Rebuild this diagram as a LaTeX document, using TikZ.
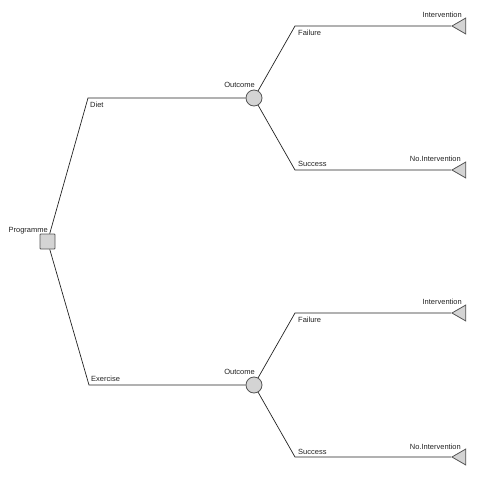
\documentclass[tikz,border=0pt]{standalone}
\usepackage{fontspec}
\setmainfont{Liberation Sans}
\usetikzlibrary{shapes.geometric}
\definecolor{shapefill}{HTML}{D4D4D4}
\definecolor{shapeline}{HTML}{555555}
\definecolor{edgecol}{HTML}{222222}
\definecolor{txtcol}{HTML}{222222}
\begin{document}
\begin{tikzpicture}[x=1pt,y=-1pt,
  decision/.style={draw=shapeline,fill=shapefill,line width=0.8pt,minimum size=15pt,inner sep=0pt,rounded corners=0.8pt},
  chance/.style={draw=shapeline,fill=shapefill,line width=0.8pt,circle,minimum size=16pt,inner sep=0pt},
  leaf/.style={draw=shapeline,fill=shapefill,line width=0.8pt,regular polygon,regular polygon sides=3,shape border rotate=90,minimum size=18.5pt,inner sep=0pt},
  edge/.style={draw=edgecol,line width=0.7pt},
  lbl/.style={inner sep=0pt,text=txtcol,font=\fontsize{7.5}{9}\selectfont}]
\useasboundingbox (0,0) rectangle (480,480);
% nodes
\node[decision] (sq) at (47.5,241.5) {};
\coordinate (d1) at (88,98);
\coordinate (e1) at (89,385);
\node[chance] (c1) at (254,98) {};
\node[chance] (c2) at (254,385) {};
\coordinate (f1) at (295,26);
\coordinate (s1) at (295,170);
\coordinate (f2) at (295,313);
\coordinate (s2) at (295,457);
\node[leaf] (t1) at (461.2,26) {};
\node[leaf] (t2) at (461.2,170) {};
\node[leaf] (t3) at (461.2,313) {};
\node[leaf] (t4) at (461.2,457) {};
% edges
\draw[edge] (sq) -- (d1) -- (c1);
\draw[edge] (sq) -- (e1) -- (c2);
\draw[edge] (c1) -- (f1) -- (t1.west);
\draw[edge] (c1) -- (s1) -- (t2.west);
\draw[edge] (c2) -- (f2) -- (t3.west);
\draw[edge] (c2) -- (s2) -- (t4.west);
% labels
\node[lbl,anchor=base east] (lprog) at (48,232) {Programme};
\node[lbl,anchor=base east] (lout1) at (255,87) {Outcome};
\node[lbl,anchor=base east] (lout2) at (255,374) {Outcome};
\node[lbl,anchor=base west] (ldiet) at (90,107) {Diet};
\node[lbl,anchor=base west] (lex) at (91,381) {Exercise};
\node[lbl,anchor=base west] (lf1) at (298,35) {Failure};
\node[lbl,anchor=base west] (ls1) at (298,166) {Success};
\node[lbl,anchor=base west] (lf2) at (298,322) {Failure};
\node[lbl,anchor=base west] (ls2) at (298,454) {Success};
\node[lbl,anchor=base east] (li1) at (462,17) {Intervention};
\node[lbl,anchor=base east] (ln1) at (461,161) {No.Intervention};
\node[lbl,anchor=base east] (li2) at (462,304) {Intervention};
\node[lbl,anchor=base east] (ln2) at (461,449) {No.Intervention};
\end{tikzpicture}
\end{document}
